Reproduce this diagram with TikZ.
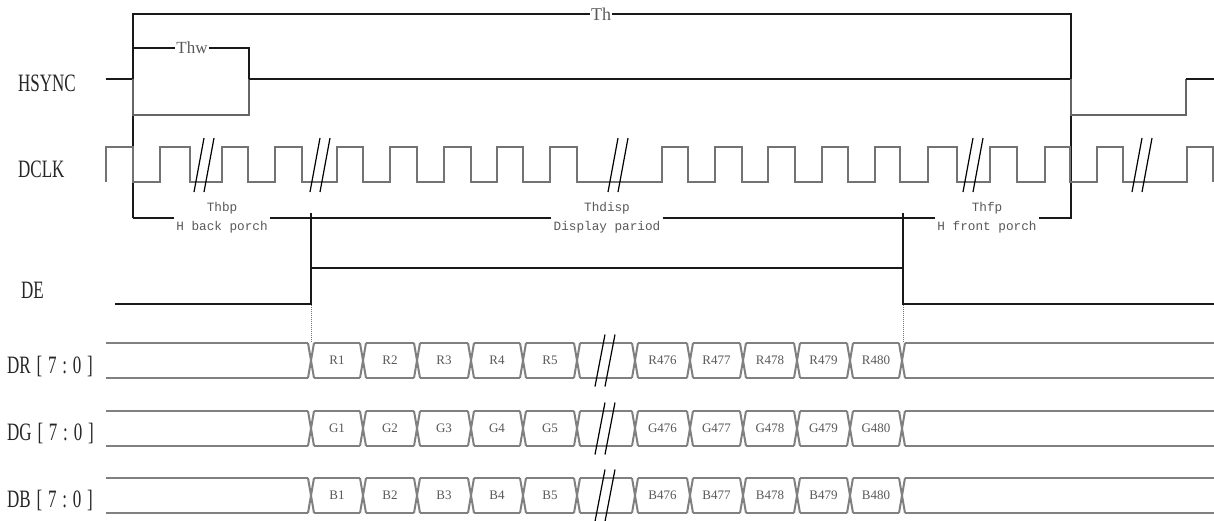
\documentclass[tikz,border=0pt]{standalone}
\usepackage{graphicx}
\usepackage{fontspec}
\setmainfont{Liberation Serif}
\newfontfamily\monof{Liberation Mono}
\begin{document}
\begin{tikzpicture}[x=1pt,y=-1pt,
  sig/.style={line width=1.6pt, black!90},
  siglo/.style={line width=1.6pt, black!60},
  clk/.style={line width=1.6pt, black!55},
  bus/.style={line width=2pt, black!50},
  brk/.style={line width=1.2pt, black},
  lbl/.style={font=\fontsize{25}{25}\selectfont, anchor=base west, inner sep=0pt, text=black!85},
  small/.style={font=\monof\fontsize{12.7}{19}\selectfont, text=black!65, inner sep=2pt, align=center},
  tlbl/.style={font=\fontsize{17}{17}\selectfont, text=black!65, inner sep=1pt},
  cell/.style={font=\fontsize{13}{13}\selectfont, text=black!65, inner sep=0pt},
  dotl/.style={densely dotted, line width=1pt, black!55}]
\useasboundingbox (0,0) rectangle (1214,520);
\fill[white] (0,0) rectangle (1214,520);

% row labels
\node[lbl] (hs) at (18,91) {\scalebox{0.68}[1]{HSYNC}};
\node[lbl] (dclk) at (18,177) {\scalebox{0.68}[1]{DCLK}};
\node[lbl] (de) at (21,298) {\scalebox{0.68}[1]{DE}};
\node[lbl] (dr) at (7,373) {\scalebox{0.68}[1]{DR\hspace{8.5pt}[\hspace{8.5pt}7\hspace{8.5pt}:\hspace{8.5pt}0\hspace{8.5pt}]}};
\node[lbl] (dg) at (7,440) {\scalebox{0.68}[1]{DG\hspace{8.5pt}[\hspace{8.5pt}7\hspace{8.5pt}:\hspace{8.5pt}0\hspace{8.5pt}]}};
\node[lbl] (db) at (7,507) {\scalebox{0.68}[1]{DB\hspace{8.5pt}[\hspace{8.5pt}7\hspace{8.5pt}:\hspace{8.5pt}0\hspace{8.5pt}]}};

% Th bracket
\node[tlbl, font=\fontsize{18}{18}\selectfont] (th) at (601,14) {Th};
\draw[sig] (133,218) -- (133,14) -- (th.west);
\draw[sig] (th.east) -- (1071,14) -- (1071,219);

% Thw bracket
\node[tlbl] (thw) at (192,48) {Thw};
\draw[sig] (133,48) -- (thw.west);
\draw[sig] (thw.east) -- (249,48) -- (249,79);

% HSYNC
\draw[sig] (106,79) -- (133,79);
\draw[siglo] (133,79) -- (133,115) -- (249,115) -- (249,79);
\draw[sig] (249,79) -- (1071,79);
\draw[siglo] (1071,79) -- (1071,115) -- (1186,115) -- (1186,79);
\draw[sig] (1186,79) -- (1214,79);

% DCLK
\draw[clk] (106,182) \foreach \a/\b in {106/133,160/190,222/248,275/302,337/363,390/417,444/471,497/523,550/577,662/688,715/742,768/795,822/848,875/900,928/957,990/1017,1045/1070,1097/1123,1187/1213} { -- (\a,182) -- (\a,147) -- (\b,147) -- (\b,182) };
\foreach \c in {204,320,618,973,1142} {
  \draw[brk] (\c-10,192) -- (\c,138);
  \draw[brk] (\c,192) -- (\c+10,138);
}

% period brackets
\node[small] (thbp) at (222,218) {Thbp\\H back porch};
\node[small] (thd) at (607,218) {Thdisp\\Display pariod};
\node[small] (thf) at (987,218) {Thfp\\H front porch};
\draw[sig] (133,218) -- (thbp.west);
\draw[sig] (thbp.east) -- (311,218);
\draw[sig] (311,218) -- (thd.west);
\draw[sig] (thd.east) -- (903,218);
\draw[sig] (903,218) -- (thf.west);
\draw[sig] (thf.east) -- (1071,218);

% DE
\draw[sig] (115,304) -- (311,304) -- (311,213);
\draw[sig] (311,268) -- (903,268);
\draw[sig] (903,213) -- (903,304) -- (1214,304);
\draw[dotl] (311,305) -- (311,343);
\draw[dotl] (903,305) -- (903,343);

% buses
\foreach \yc/\L in {360.5/R, 428.5/G, 495.5/B} {
  \pgfmathsetmacro{\yt}{\yc-17.5}
  \pgfmathsetmacro{\yb}{\yc+17.5}
  \draw[bus] (106,\yt) -- (308,\yt);
  \draw[bus] (106,\yb) -- (308,\yb);
  \draw[bus] (905,\yt) -- (1214,\yt);
  \draw[bus] (905,\yb) -- (1214,\yb);
  \foreach \x in {311,363,417,471,523,577,635,690,743,797,850,902} {
    \draw[bus] (\x-3,\yt) -- (\x+3,\yb);
    \draw[bus] (\x-3,\yb) -- (\x+3,\yt);
  }
  \foreach \a/\b in {311/363,363/417,417/471,471/523,523/577,577/635,635/690,690/743,743/797,797/850,850/902} {
    \draw[bus] (\a+3,\yt) -- (\b-3,\yt);
    \draw[bus] (\a+3,\yb) -- (\b-3,\yb);
  }
  \foreach \a/\b/\n in {311/363/1,363/417/2,417/471/3,471/523/4,523/577/5,635/690/476,690/743/477,743/797/478,797/850/479,850/902/480} {
    \node[cell] (c\L\n) at ({(\a+\b)/2},\yc) {\L\n};
  }
  \draw[brk] (595,\yc+26) -- (605,\yc-26);
  \draw[brk] (605,\yc+26) -- (615,\yc-26);
}
\end{tikzpicture}
\end{document}
